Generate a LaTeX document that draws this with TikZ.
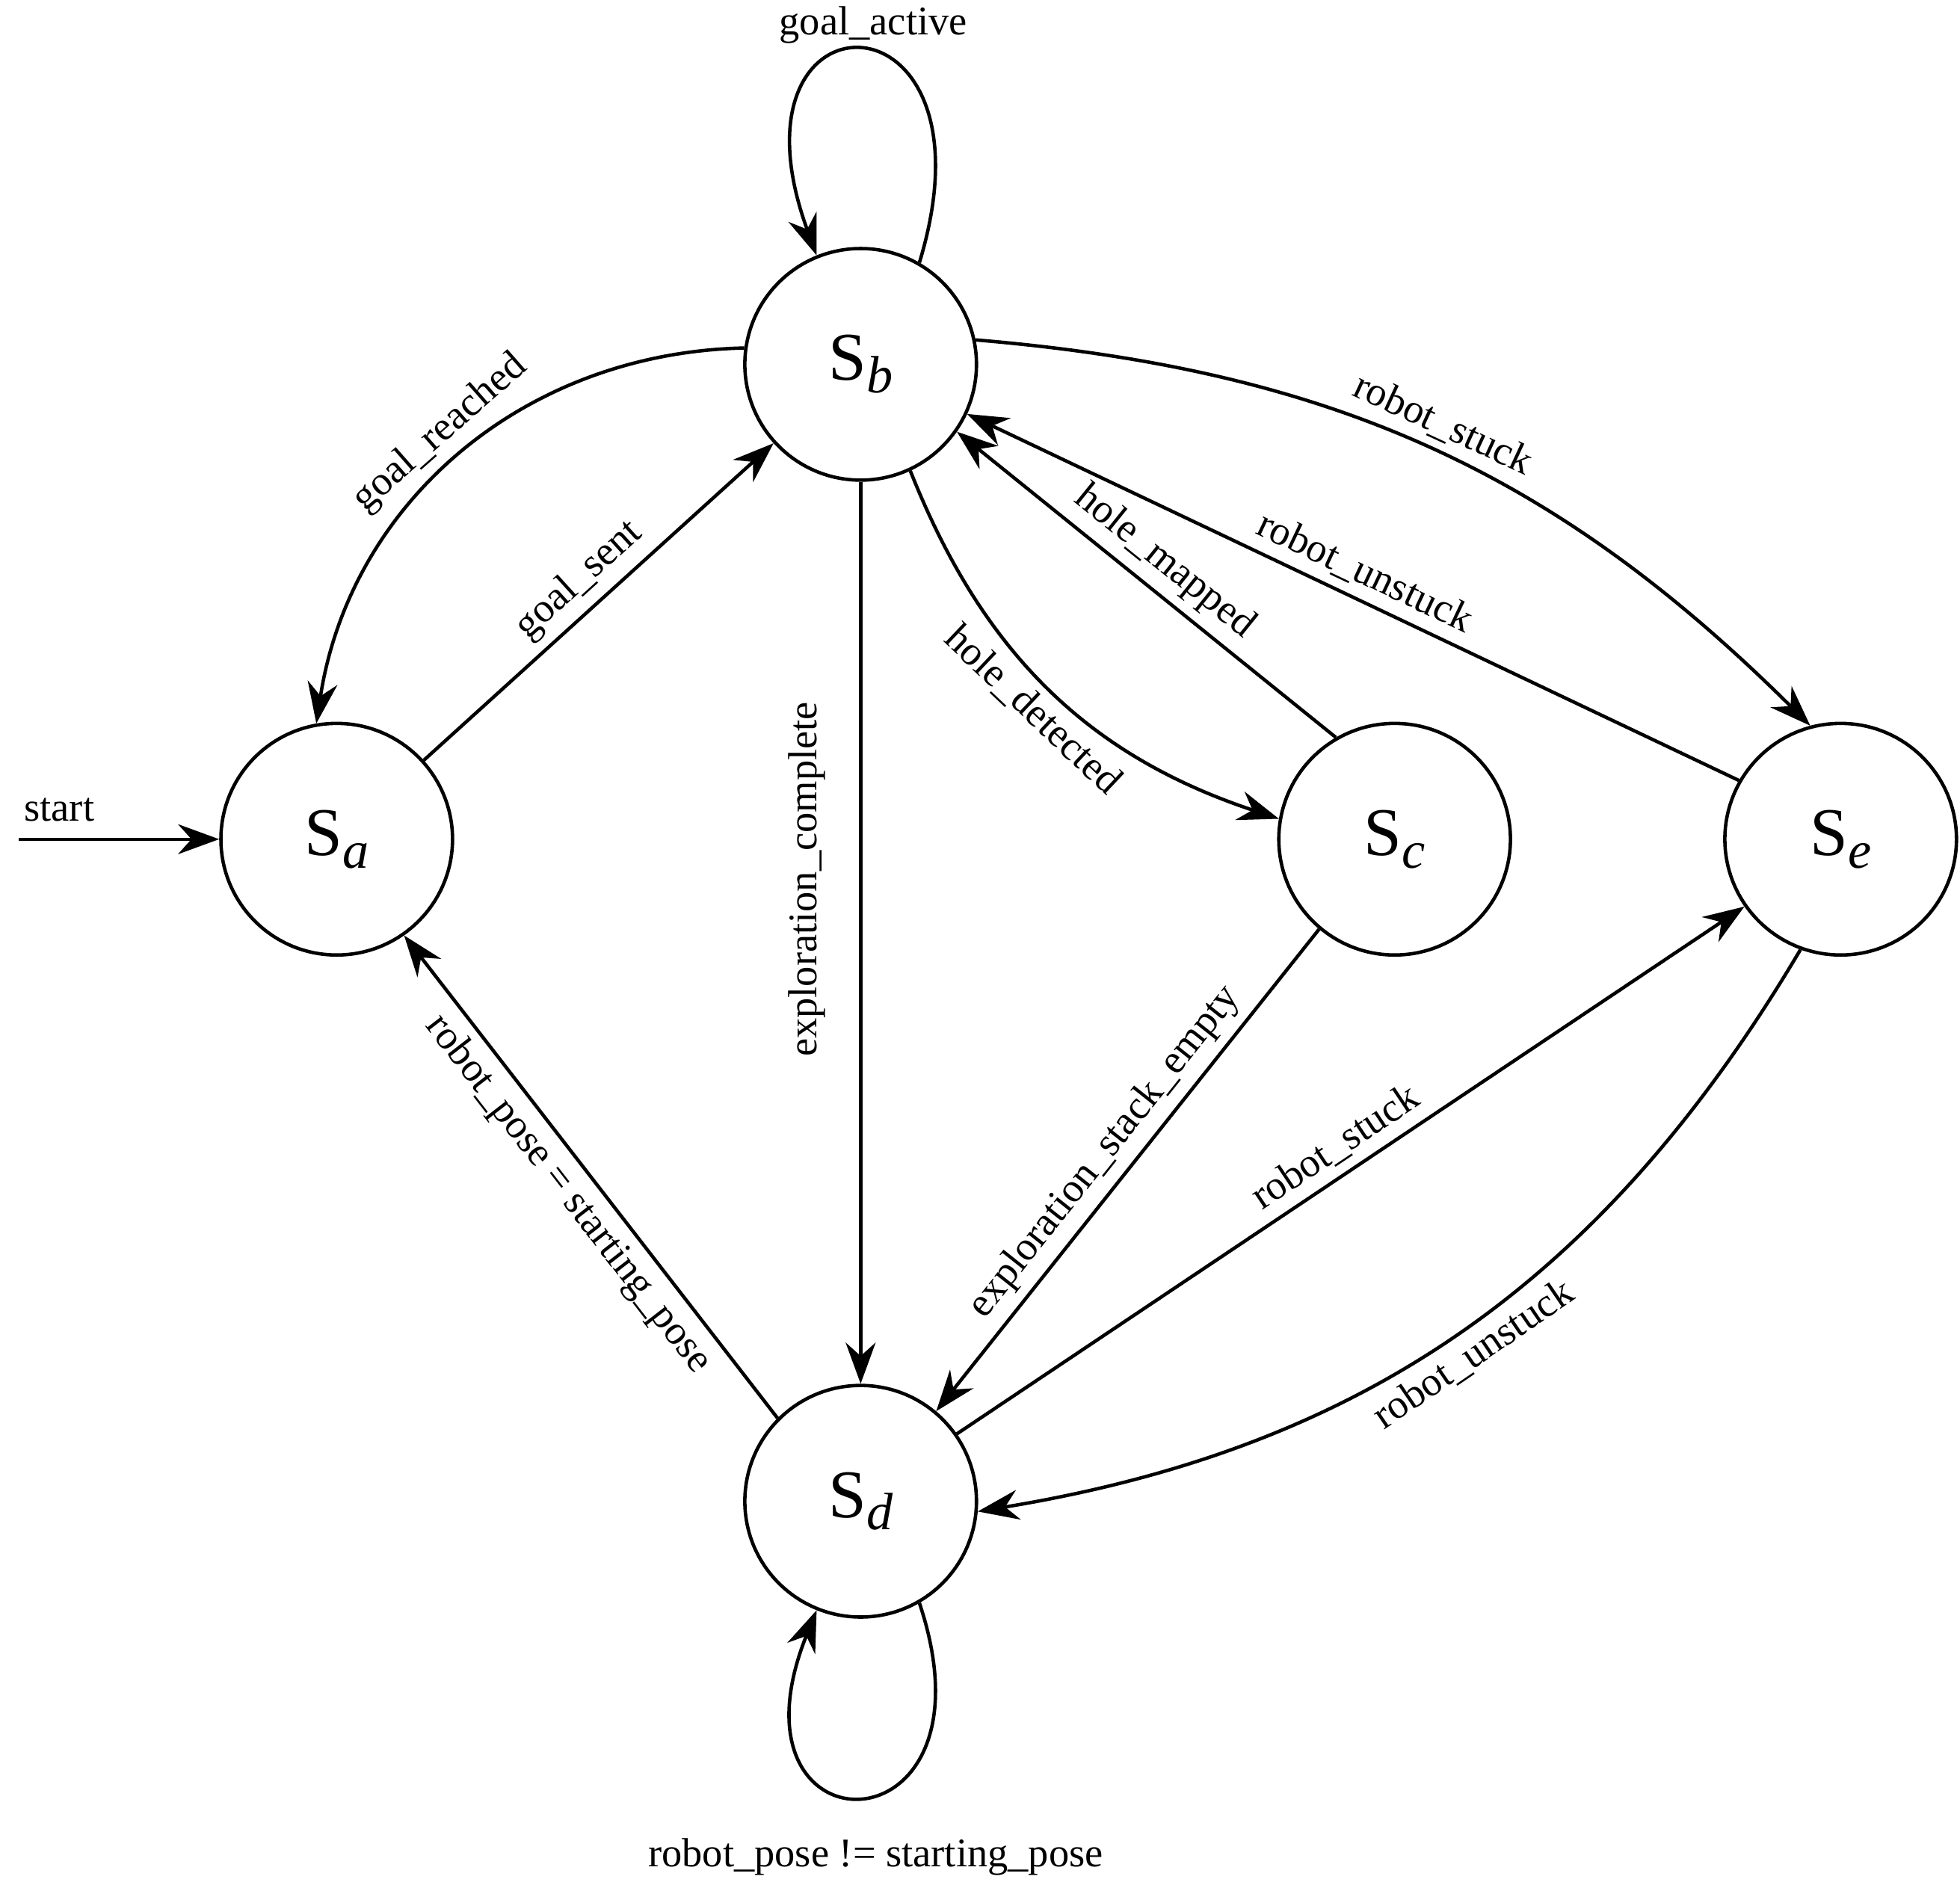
\documentclass[tikz,border=0pt]{standalone}
\usepackage{fontspec}
\setmainfont{Liberation Serif}
\usetikzlibrary{arrows.meta}
\newcommand{\sub}[1]{\raisebox{-0.4ex}{\itshape\fontsize{20}{24}\selectfont #1}}
\begin{document}
\begin{tikzpicture}[x=0.01681cm,y=-0.01681cm,
  st/.style={circle,draw,line width=1.3pt,minimum size=3.1cm,inner sep=0pt,font=\fontsize{26}{30}\selectfont},
  e/.style={draw,line width=1.3pt,-{Stealth[length=0.55cm,width=0.4cm]}},
  tx/.style={font=\fontsize{15.5}{19}\selectfont},
  lb/.style={tx,sloped}]
\useasboundingbox (0,0) rectangle (1560,1500);
\node[st] (a) at (268,668) {S\sub{a}};
\node[st] (b) at (685,290) {S\sub{b}};
\node[st] (c) at (1110,668) {S\sub{c}};
\node[st] (d) at (685,1195) {S\sub{d}};
\node[st] (e) at (1465,668) {S\sub{e}};
\coordinate (s) at (15,668);
\draw[e] (s) -- node[above,tx,xshift=-0.8cm,yshift=0.1cm] {start} (a);
\draw[e] (a) -- node[lb,above] {goal\_sent} (b);
\draw[e] (b.172) to[bend right=40] node[lb,above] {goal\_reached} (a.100);
\draw[e] (b.60) .. controls (800,-15) and (570,-15) .. (b.112);
\node[tx] (ga) at (695,20) {goal\_active};
\draw[e] (b) -- (d);
\node[tx,rotate=90] (ec) at (642,700) {exploration\_complete};
\draw[e] (b.-65) to[bend right=25] node[lb,below] {hole\_detected} (c.170);
\draw[e] (c.120) -- node[lb,above] {hole\_mapped} (b.-35);
\draw[e] (b.12) to[bend left=20] node[lb,above] {robot\_stuck} (e.105);
\draw[e] (e.150) -- node[lb,above] {robot\_unstuck} (b.-25);
\draw[e] (c.-130) -- node[lb,above] {exploration\_stack\_empty} (d.50);
\draw[e] (d.35) -- node[lb,above] {robot\_stuck} (e.-145);
\draw[e] (e.-110) to[bend left=25] node[lb,below] {robot\_unstuck} (d.-5);
\draw[e] (d.135) -- node[lb,below] {robot\_pose = starting\_pose} (a.-55);
\draw[e] (d.-60) .. controls (800,1480) and (570,1480) .. (d.-112);
\node[tx] (rp) at (697,1478) {robot\_pose != starting\_pose};
\end{tikzpicture}
\end{document}
